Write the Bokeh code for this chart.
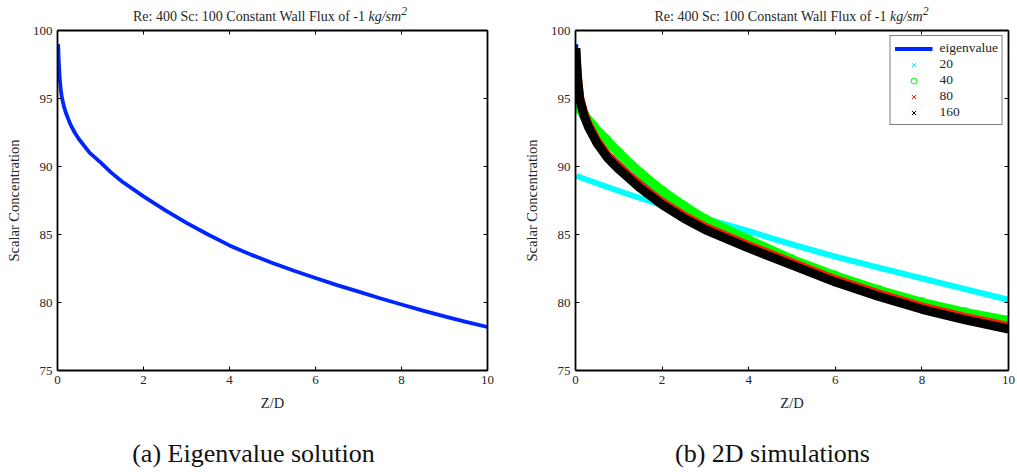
from bokeh.plotting import figure
from bokeh.models import Range1d, LinearAxis, SingleIntervalTicker, Legend, LegendItem, Div
from bokeh.layouts import row, column
from bokeh.embed import file_html
from bokeh.resources import INLINE

# ---------------- data ----------------
# Eigenvalue solution
EIG_Z = [0.015, 0.03, 0.05, 0.07, 0.1, 0.15, 0.2, 0.3, 0.4, 0.5, 0.75, 1.0, 1.25, 1.5,
         2.0, 2.5, 3.0, 3.5, 4.0, 4.5, 5.0, 5.5, 6.0, 6.5, 7.0, 7.5, 8.0, 8.5, 9.0, 9.5, 10.0]
EIG_C = [99.0, 97.7, 96.6, 95.8, 95.1, 94.4, 93.9, 93.1, 92.5, 92.0, 91.0, 90.3, 89.55, 88.9,
         87.8, 86.8, 85.85, 85.0, 84.2, 83.52, 82.9, 82.33, 81.8, 81.28, 80.8, 80.31, 79.85,
         79.4, 78.98, 78.58, 78.2]

# 2D simulations (resolution 20, 40, 80, 160)
Z20 = [0.02, 1.0, 2.0, 3.0, 4.0, 5.0, 6.0, 7.0, 8.0, 9.0, 10.0]
C20 = [89.3, 88.2, 87.15, 86.17, 85.24, 84.27, 83.37, 82.56, 81.78, 80.98, 80.2]

Z40 = [0.02, 0.2, 0.4, 0.7, 1.0, 1.5, 2.0, 2.5, 3.0, 4.0, 5.0, 6.0, 7.0, 8.0, 9.0, 10.0]
C40 = [94.5, 93.8, 93.0, 92.0, 91.0, 89.5, 88.2, 87.1, 86.1, 84.6, 83.15, 81.95, 80.9, 80.0, 79.25, 78.65]

Z80 = [0.01, 0.03, 0.05, 0.1, 0.2, 0.3, 0.5, 0.75, 1.0, 1.5, 2.0, 2.5, 3.0, 4.0, 5.0, 6.0, 7.0, 8.0, 9.0, 10.0]
C80 = [98.3, 97.6, 96.6, 95.1, 93.9, 93.1, 91.9, 90.8, 90.0, 88.6, 87.4, 86.4, 85.55, 84.2, 82.95, 81.7, 80.65, 79.7, 78.92, 78.25]

Z160 = [0.01, 0.03, 0.05, 0.1, 0.2, 0.3, 0.5, 0.75, 1.0, 1.5, 2.0, 2.5, 3.0, 4.0, 5.0, 6.0, 7.0, 8.0, 9.0, 10.0]
C160 = [98.7, 97.4, 96.4, 94.9, 93.7, 92.9, 91.7, 90.6, 89.8, 88.4, 87.2, 86.2, 85.35, 84.0, 82.75, 81.5, 80.45, 79.5, 78.72, 78.05]

X_TICK_STEP = 2
Y_TICK_STEP = 5

TITLE_MAIN = "Re: 400 Sc: 100 Constant Wall Flux of -1"
TITLE_UNIT = "kg/sm<sup>2</sup>"
CAPTIONS = ["(a) Eigenvalue solution", "(b) 2D simulations"]
LEGEND_LABELS = ["eigenvalue", "20", "40", "80", "160"]

SERIF = "Liberation Serif"
TXT = "#262626"
BLUE = "#0026ff"

TITLE_H = 24
CAP_H = 40
FIG_H = 472 - TITLE_H - CAP_H


def style_axis(ax, labels=True):
    ax.axis_line_width = 1.8
    ax.axis_line_color = "black"
    ax.major_tick_line_color = "black"
    ax.major_tick_line_width = 1
    ax.major_tick_in = 4
    ax.major_tick_out = 0
    ax.minor_tick_line_color = None
    if labels:
        ax.major_label_text_font = SERIF
        ax.major_label_text_font_size = "13px"
        ax.major_label_text_color = TXT
        ax.major_label_standoff = 5
        ax.axis_label_text_font = SERIF
        ax.axis_label_text_font_size = "14.5px"
        ax.axis_label_text_font_style = "normal"
        ax.axis_label_text_color = TXT
        ax.axis_label_standoff = 8
    else:
        ax.major_label_text_font_size = "1px"
        ax.major_label_text_color = None
        ax.major_label_standoff = 0


def make_fig(width, bl, br, bt, bb):
    p = figure(width=width, height=FIG_H, x_range=Range1d(0, 10), y_range=Range1d(75, 100),
               min_border_left=bl, min_border_right=br, min_border_top=bt, min_border_bottom=bb,
               output_backend="svg", toolbar_location=None,
               x_axis_label="Z/D", y_axis_label="Scalar Concentration")
    p.grid.visible = False
    p.outline_line_color = None
    p.background_fill_color = "white"
    p.border_fill_color = "white"
    p.xaxis.ticker = SingleIntervalTicker(interval=X_TICK_STEP, num_minor_ticks=0)
    p.yaxis.ticker = SingleIntervalTicker(interval=Y_TICK_STEP, num_minor_ticks=0)
    for ax in p.xaxis:
        style_axis(ax)
    for ax in p.yaxis:
        style_axis(ax)
    top = LinearAxis(ticker=SingleIntervalTicker(interval=X_TICK_STEP, num_minor_ticks=0))
    style_axis(top, labels=False)
    p.add_layout(top, "above")
    right = LinearAxis(ticker=SingleIntervalTicker(interval=Y_TICK_STEP, num_minor_ticks=0))
    style_axis(right, labels=False)
    p.add_layout(right, "right")
    return p


def title_div(width, center):
    html = (f'<div style="position:relative;width:{width}px;height:{TITLE_H}px;">'
            f'<span style="position:absolute;left:{center}px;top:0px;transform:translateX(-50%);'
            f'white-space:nowrap;font-family:\'{SERIF}\';font-size:14px;line-height:{TITLE_H}px;color:{TXT};">'
            f'{TITLE_MAIN} <i>{TITLE_UNIT}</i></span></div>')
    return Div(text=html, width=width, height=TITLE_H, margin=0)


def caption_div(width, center, text):
    html = (f'<div style="position:relative;width:{width}px;height:{CAP_H}px;">'
            f'<span style="position:absolute;left:{center}px;top:2px;transform:translateX(-50%);'
            f'white-space:nowrap;font-family:\'{SERIF}\';font-size:26px;line-height:{CAP_H}px;color:#111;">'
            f'{text}</span></div>')
    return Div(text=html, width=width, height=CAP_H, margin=0)


# ---------------- left: eigenvalue solution ----------------
p1 = make_fig(508, 57, 21, 30 - TITLE_H, 472 - CAP_H - 370)
p1.line(EIG_Z, EIG_C, line_color=BLUE, line_width=3.8, line_join="round")

# ---------------- right: 2D simulations ----------------
p2 = make_fig(509, 67, 9, 29 - TITLE_H, 472 - CAP_H - 371)
r_eig = p2.line(EIG_Z, EIG_C, line_color=BLUE, line_width=3.8, line_join="round")

p2.line(Z20, C20, line_color="cyan", line_width=6, line_join="round")
r20 = p2.scatter(Z20, C20, marker="x", size=7, line_color="cyan", line_width=1)

p2.line(Z40, C40, line_color="#00ff00", line_width=9.5, line_join="round")
r40 = p2.scatter(Z40, C40, marker="circle", size=10, fill_color=None, line_color="#00ff00", line_width=1)

p2.line(Z80, C80, line_color="#ff1a00", line_width=8.5, line_join="round")
r80 = p2.scatter(Z80, C80, marker="x", size=7, line_color="#ff1a00", line_width=1)

p2.line(Z160, C160, line_color="black", line_width=9, line_join="round")
r160 = p2.scatter(Z160, C160, marker="x", size=7, line_color="black", line_width=1)

legend = Legend(items=[LegendItem(label=LEGEND_LABELS[0], renderers=[r_eig]),
                       LegendItem(label=LEGEND_LABELS[1], renderers=[r20]),
                       LegendItem(label=LEGEND_LABELS[2], renderers=[r40]),
                       LegendItem(label=LEGEND_LABELS[3], renderers=[r80]),
                       LegendItem(label=LEGEND_LABELS[4], renderers=[r160])],
                location="top_right", margin=5, padding=4, spacing=0,
                glyph_width=38, glyph_height=15, label_height=15, label_standoff=7,
                label_text_font=SERIF, label_text_font_size="13.5px", label_text_color=TXT,
                border_line_color="black", border_line_width=1.5, background_fill_alpha=1)
p2.add_layout(legend)

layout = column(row(title_div(508, 270), title_div(509, 283.5)),
                row(p1, p2),
                row(caption_div(508, 253.5, CAPTIONS[0]), caption_div(509, 264.5, CAPTIONS[1])))
open("out.html", "w").write(file_html(layout, INLINE))
